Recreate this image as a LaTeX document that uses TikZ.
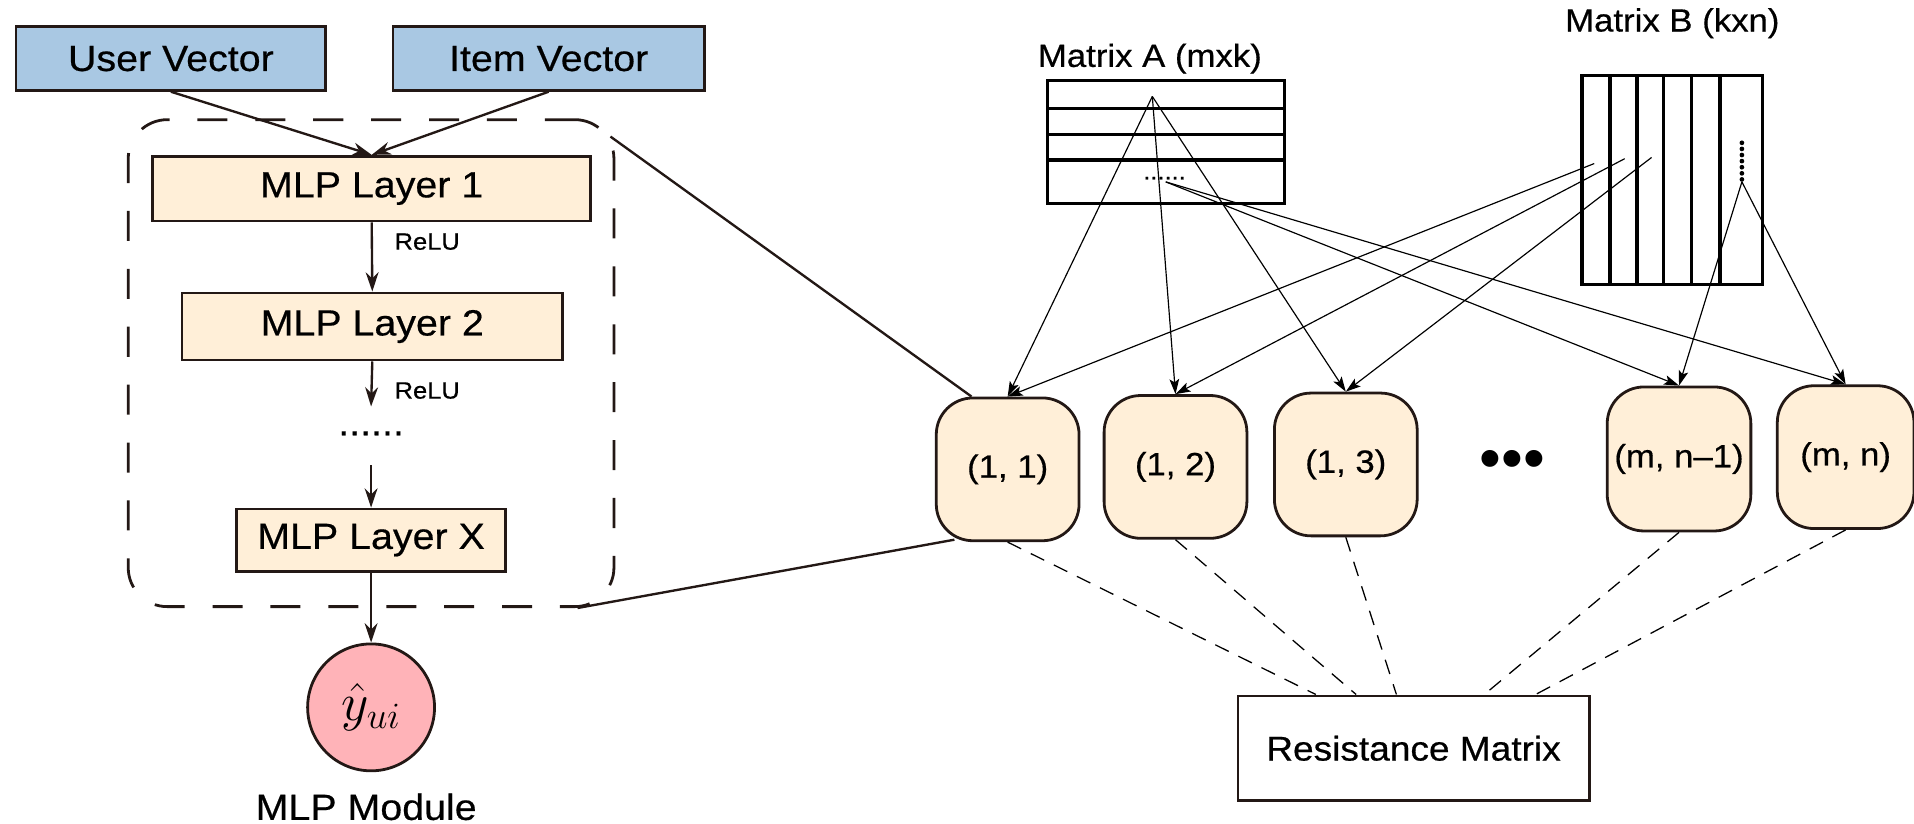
\documentclass[tikz,border=0pt]{standalone}
\usepackage{fontspec}
\setmainfont{Liberation Sans}[FakeStretch=1.08,FakeBold=0.5]
\newfontfamily\plainsans{Liberation Sans}
\usetikzlibrary{arrows.meta,calc}

\definecolor{ink}{HTML}{231815}
\definecolor{vecblue}{HTML}{A9C8E3}
\definecolor{layercream}{HTML}{FFEFD8}
\definecolor{outpink}{HTML}{FFB3B8}

\begin{document}
\begin{tikzpicture}[x=0.02cm,y=-0.02cm,
  bigtxt/.style={font=\fontsize{17}{20}\selectfont, text=black},
  midtxt/.style={font=\fontsize{15}{18}\selectfont, text=black},
  relutxt/.style={font=\fontsize{11}{13}\selectfont, text=black},
  vecbox/.style={draw=ink, fill=vecblue, line width=1.3pt, bigtxt},
  layer/.style={draw=ink, fill=layercream, line width=1.3pt, bigtxt},
  frame/.style={draw=ink, line width=1.3pt, dash pattern=on 14pt off 13pt, rounded corners=0.64cm},
  outcirc/.style={circle, draw=ink, fill=outpink, line width=1.3pt, minimum size=2.08cm, font=\fontsize{26}{30}\selectfont},
  cell/.style={draw=ink, fill=layercream, line width=1.3pt, rounded corners=0.6cm, font=\fontsize{15}{18}\selectfont},
  resbox/.style={draw=ink, line width=1.2pt, font=\fontsize{16}{19}\selectfont},
  matbox/.style={draw=black, line width=1.5pt},
  matline/.style={draw=black, line width=1.5pt},
  mlparr/.style={draw=ink, line width=1.1pt, -{Stealth[length=9pt,width=6pt]}},
  thinarr/.style={draw=black, line width=0.55pt, -{Stealth[length=7pt,width=4.5pt,inset=1.5pt]}},
  zoomline/.style={draw=ink, line width=1.1pt},
  resdash/.style={draw=black, line width=0.6pt, dash pattern=on 7pt off 5pt}
]
\useasboundingbox (0,0) rectangle (1568,675);

% ---------- MLP module ----------
\node[vecbox, minimum width=5.08cm, minimum height=1.04cm] (user) at (140,48) {User Vector};
\node[vecbox, minimum width=5.10cm, minimum height=1.04cm] (item) at (449.5,48) {Item Vector};

\node[frame, minimum width=7.96cm, minimum height=7.98cm] (mlpbox) at (304,297.5) {};

\node[layer, minimum width=7.18cm, minimum height=1.06cm] (l1) at (304.5,154.5) {MLP Layer 1};
\node[layer, minimum width=6.24cm, minimum height=1.10cm] (l2) at (305,267.5) {MLP Layer 2};
\node[bigtxt] (dots) at (304,355) {......};
\node[layer, minimum width=4.40cm, minimum height=1.02cm] (lx) at (304,442.5) {MLP Layer X};
\node[outcirc] (yhat) at (304,579.5) {$\hat{y}_{ui}$};
\node[bigtxt] (modname) at (300,661) {MLP Module};

\coordinate (r2end) at (304,333);
\coordinate (dotsout) at (304,381);

\draw[mlparr] (user.south) -- (l1.north);
\draw[mlparr] (item.south) -- (l1.north);
\draw[mlparr] (l1.south) -- (l2.north);
\node[relutxt] (relu1) at (350,198) {ReLU};
\draw[mlparr] (l2.south) -- (r2end);
\node[relutxt] (relu2) at (350,320) {ReLU};
\draw[mlparr] (dotsout) -- (lx.north);
\draw[mlparr] (lx.south) -- (yhat.north);

% ---------- matrices ----------
\node[midtxt] (labA) at (942,48) {Matrix A (mxk)};
\node[matbox, minimum width=3.88cm, minimum height=2.02cm] (matA) at (955,116.5) {};
\foreach \yy in {89,110,131}
  \draw[matline] (858,\yy) -- (1052,\yy);
\node[font=\fontsize{11}{12}\selectfont] (adots) at (954,146) {......};

\node[midtxt] (labB) at (1370,19) {Matrix B (kxn)};
\node[matbox, minimum width=2.96cm, minimum height=3.42cm] (matB) at (1370,147.5) {};
\foreach \xx in {1319,1341,1363,1386,1409}
  \draw[matline] (\xx,62) -- (\xx,233);
\foreach \yy in {117,122,...,147}
  \fill[black] (1427,\yy) circle (1.1pt);

\coordinate (aTop) at (944,79);
\coordinate (aDots) at (955,149);
\coordinate (bOne) at (1306,134);
\coordinate (bTwo) at (1331,130);
\coordinate (bThree) at (1353,129);
\coordinate (bDots) at (1427,149);

% ---------- result cells ----------
\node[cell, minimum width=2.34cm, minimum height=2.34cm] (c11) at (825.5,384.5) {(1, 1)};
\node[cell, minimum width=2.34cm, minimum height=2.34cm] (c12) at (963,382.5) {(1, 2)};
\node[cell, minimum width=2.34cm, minimum height=2.34cm] (c13) at (1102.5,380.5) {(1, 3)};
\node[font=\fontsize{29}{29}\plainsans\selectfont] (cdots) at (1239,381) {•••};
\node[cell, minimum width=2.30cm, minimum height=2.36cm] (cmn1) at (1375.5,376) {(m, n--1)};
\node[cell, minimum width=2.24cm, minimum height=2.34cm] (cmn) at (1512,374.5) {(m, n)};

\draw[thinarr] (aTop) -- (c11.north);
\draw[thinarr] (aTop) -- (c12.north);
\draw[thinarr] (aTop) -- (c13.north);
\draw[thinarr] (aDots) -- (cmn1.north);
\draw[thinarr] (aDots) -- (cmn.north);
\draw[thinarr] (bOne) -- (c11.north);
\draw[thinarr] (bTwo) -- (c12.north);
\draw[thinarr] (bThree) -- (c13.north);
\draw[thinarr] (bDots) -- (cmn1.north);
\draw[thinarr] (bDots) -- (cmn.north);

% links from the MLP module frame to the first cell
\draw[zoomline] ($(mlpbox.north east)+(-4,15)$) -- ($(c11.north west)+(30,0)$);
\draw[zoomline] ($(mlpbox.south east)+(-31,0)$) -- ($(c11.south west)+(16,-2)$);

% ---------- resistance matrix ----------
\node[resbox, minimum width=5.76cm, minimum height=1.72cm] (res) at (1158,613) {Resistance Matrix};
\draw[resdash] (c11.south) -- ($(res.north west)+(65,0)$);
\draw[resdash] (c12.south) -- ($(res.north west)+(98,0)$);
\draw[resdash] (c13.south) -- ($(res.north west)+(131,0)$);
\draw[resdash] (cmn1.south) -- ($(res.north west)+(203,0)$);
\draw[resdash] (cmn.south) -- ($(res.north west)+(245,0)$);
\end{tikzpicture}
\end{document}
